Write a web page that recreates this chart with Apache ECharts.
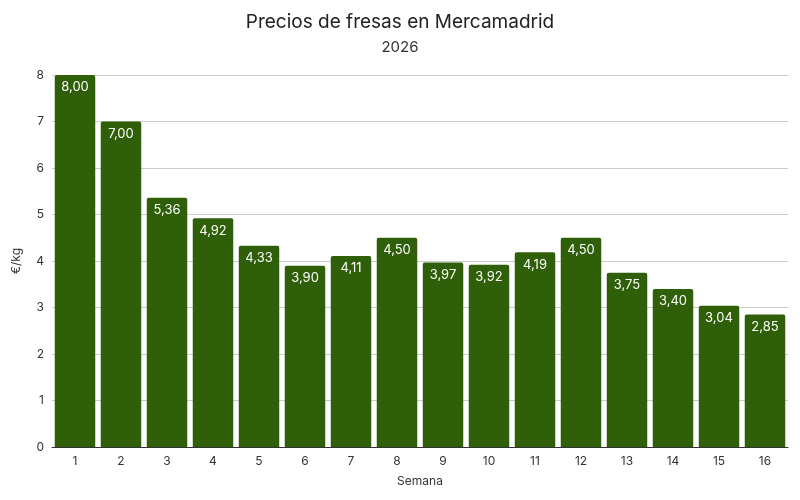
<!DOCTYPE html>
<html>
<head>
<meta charset="utf-8">
<script src="https://cdn.jsdelivr.net/npm/echarts@6/dist/echarts.min.js"></script>
<style>html,body{margin:0;padding:0;background:#fff}#main{width:800px;height:500px}</style>
</head>
<body>
<div id="main"></div>
<script>
// semanas y precios (€/kg)
var semanas = ['1','2','3','4','5','6','7','8','9','10','11','12','13','14','15','16'];
var precios = [8.00, 7.00, 5.36, 4.92, 4.33, 3.90, 4.11, 4.50, 3.97, 3.92, 4.19, 4.50, 3.75, 3.40, 3.04, 2.85];

var myChart = echarts.init(document.getElementById('main'));

var option = {
    backgroundColor: '#fff',
    textStyle: { fontFamily: 'Inter' },
    title: {
        text: 'Precios de fresas en Mercamadrid',
        subtext: '2026',
        left: 'center',
        top: 8,
        itemGap: 8,
        textStyle: { fontFamily: 'Inter', fontSize: 19, fontWeight: 'normal', color: '#222' },
        subtextStyle: { fontFamily: 'Inter', fontSize: 15, color: '#333' }
    },
    grid: { left: 52, right: 12, top: 75, bottom: 53 },
    xAxis: {
        type: 'category',
        data: semanas,
        name: 'Semana',
        nameLocation: 'middle',
        nameGap: 28,
        nameTextStyle: { fontSize: 12, color: '#333' },
        axisTick: { show: false },
        axisLine: { lineStyle: { color: '#333' } },
        axisLabel: { color: '#333', fontSize: 12 }
    },
    yAxis: {
        type: 'value',
        min: 0,
        max: 8,
        interval: 1,
        name: '€/kg',
        nameLocation: 'middle',
        nameGap: 30,
        nameTextStyle: { fontSize: 12, color: '#333' },
        axisLabel: { color: '#333', fontSize: 12 },
        splitLine: { lineStyle: { color: '#ccc' } }
    },
    series: [{
        type: 'bar',
        data: precios,
        barCategoryGap: '12%',
        itemStyle: { color: '#2f5f08', borderRadius: [2, 2, 0, 0] },
        label: {
            show: true,
            position: 'insideTop',
            distance: 6,
            color: '#fff',
            fontSize: 13,
            formatter: function (p) { return p.value.toFixed(2).replace('.', ','); }
        }
    }]
};

myChart.setOption(option);
</script>
</body>
</html>
